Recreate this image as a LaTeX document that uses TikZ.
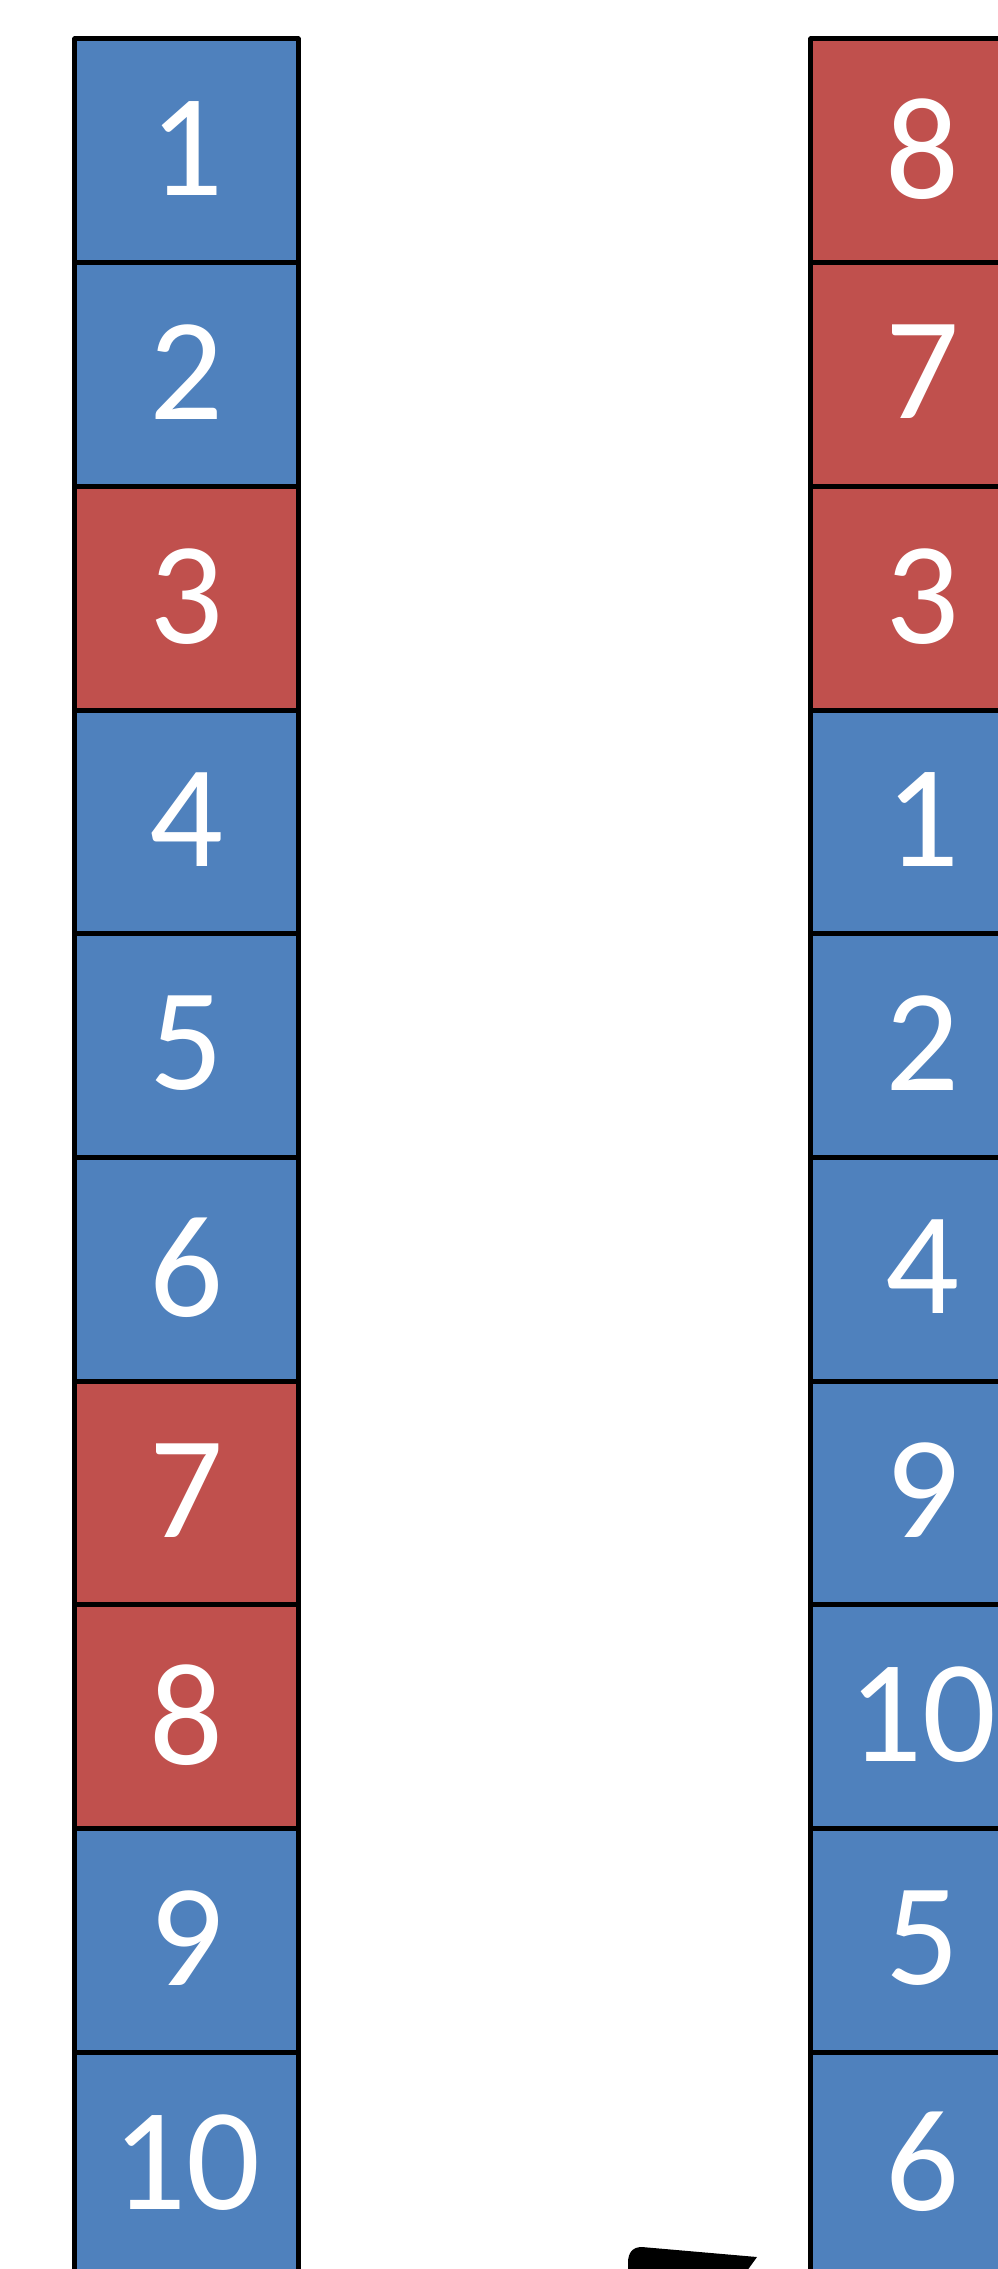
\documentclass[tikz,border=0pt]{standalone}
\usepackage{fontspec}
\setmainfont{Carlito}
\definecolor{cblue}{HTML}{4F81BD}
\definecolor{cred}{HTML}{C0504D}
\begin{document}
\begin{tikzpicture}[x=1pt,y=-1pt,
  cell/.style={draw=black,line width=5pt,line join=round,minimum width=223.5pt,minimum height=223.7pt,
    inner sep=0pt,text=white,font=\fontsize{146}{146}\selectfont,text depth=5pt,anchor=center}]
\useasboundingbox (0,0) rectangle (998,2269);
\clip (0,0) rectangle (998,2269);
\fill[white] (0,0) rectangle (998,2269);
\foreach \n/\c [count=\i from 0] in {1/cblue,2/cblue,3/cred,4/cblue,5/cblue,6/cblue,7/cred,8/cred,9/cblue,10/cblue}
  \node[cell,fill=\c] (L\n) at (186.5,{150.85+223.7*\i}) {\n};
\foreach \n/\c [count=\i from 0] in {8/cred,7/cred,3/cred,1/cblue,2/cblue,4/cblue,9/cblue,10/cblue,5/cblue,6/cblue}
  \node[cell,fill=\c] (R\n) at (922.5,{150.85+223.7*\i}) {\n};
\fill[black] (628,2263) .. controls (628,2252) and (633,2247) .. (642,2247) -- (757,2257) -- (744,2275) -- (628,2275) -- cycle;
\end{tikzpicture}
\end{document}
